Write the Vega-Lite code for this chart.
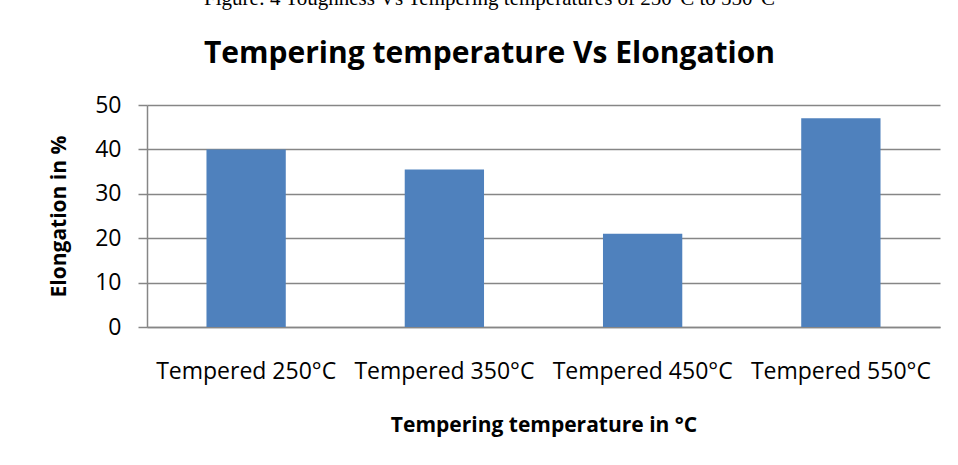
{
  "$schema": "https://vega.github.io/schema/vega-lite/v6.json",
  "autosize": "none",
  "width": 793,
  "height": 222,
  "padding": {"left": 147, "top": 105, "right": 18, "bottom": 138},
  "background": "white",
  "title": {
    "text": "Figure: 4 Toughness Vs Tempering temperatures of 250°C to 550°C",
    "subtitle": "Tempering temperature Vs Elongation",
    "anchor": "middle",
    "dx": -54,
    "font": "Liberation Serif",
    "fontSize": 21,
    "fontWeight": "normal",
    "color": "black",
    "subtitleFont": "Open Sans",
    "subtitleFontSize": 30,
    "subtitleFontWeight": "bold",
    "subtitleColor": "black",
    "subtitlePadding": 30,
    "offset": 25
  },
  "data": {
    "values": [
      {"temp": "Tempered 250°C", "elong": 40},
      {"temp": "Tempered 350°C", "elong": 35.5},
      {"temp": "Tempered 450°C", "elong": 21},
      {"temp": "Tempered 550°C", "elong": 47}
    ]
  },
  "mark": {"type": "bar", "color": "#4F81BD"},
  "encoding": {
    "x": {
      "field": "temp",
      "type": "nominal",
      "sort": null,
      "scale": {"paddingInner": 0.6, "paddingOuter": 0.3},
      "axis": {
        "title": "Tempering temperature in °C",
        "labelAngle": 0,
        "labelFont": "Open Sans",
        "labelFontSize": 23,
        "labelColor": "black",
        "labelBaseline": "alphabetic",
        "labelPadding": 51,
        "labelLimit": 0,
        "labelOverlap": false,
        "ticks": false,
        "tickSize": 0,
        "domainColor": "#868686",
        "domainWidth": 1.5,
        "titleFont": "Open Sans",
        "titleFontSize": 21,
        "titleFontWeight": "bold",
        "titleColor": "black",
        "titleBaseline": "alphabetic",
        "titleAlign": "center",
        "titleX": 396.5,
        "titleY": 104
      }
    },
    "y": {
      "field": "elong",
      "type": "quantitative",
      "scale": {"domain": [0, 50], "nice": false},
      "axis": {
        "title": "Elongation in %",
        "values": [0, 10, 20, 30, 40, 50],
        "labelFont": "Open Sans",
        "labelFontSize": 23,
        "labelColor": "black",
        "labelPadding": 17,
        "tickSize": 9,
        "tickColor": "#868686",
        "tickWidth": 1.5,
        "domainColor": "#868686",
        "domainWidth": 1.5,
        "grid": true,
        "gridColor": "#868686",
        "gridWidth": 1.5,
        "titleFont": "Open Sans",
        "titleFontSize": 21,
        "titleFontWeight": "bold",
        "titleColor": "black",
        "titleAngle": -90,
        "titleBaseline": "middle",
        "titleAlign": "center",
        "titleX": -88,
        "titleY": 111
      }
    }
  },
  "config": {
    "view": {"stroke": null}
  }
}
